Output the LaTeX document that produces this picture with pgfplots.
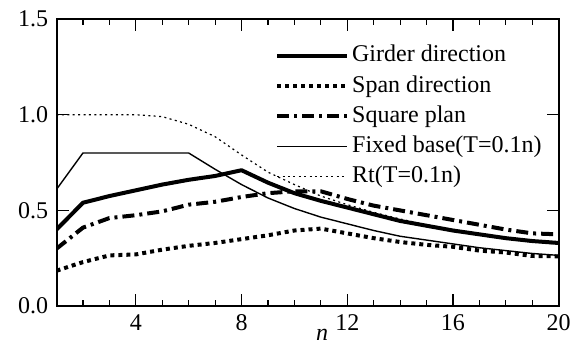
\documentclass[border=0pt]{standalone}
\usepackage{fontspec}
\setmainfont{Liberation Serif}
\usepackage{pgfplots}
\pgfplotsset{compat=1.18}
\begin{document}
\fontsize{12}{14}\selectfont
\begin{tikzpicture}
\useasboundingbox (-28.25pt,-19.5pt) rectangle (257.15pt,153pt);
\begin{axis}[
  at={(0pt,0pt)}, anchor=south west,
  scale only axis, width=251pt, height=143.5pt,
  xmin=1, xmax=20, ymin=0, ymax=1.5,
  xtick={4,8,12,16,20}, minor xtick={1,2,...,20},
  ytick={0,0.5,1,1.5},
  tick align=inside,
  major tick length=6pt, minor tick length=3pt,
  every tick/.style={black, line width=0.6pt},
  axis line style={line width=1pt},
  yticklabel style={/pgf/number format/.cd, fixed, fixed zerofill, precision=1},
  /pgf/number format/assume math mode=true,
  ticklabel style={font=\fontsize{12}{14}\selectfont},
  xlabel={\textit{n}},
  xlabel style={at={(axis description cs:0.529,0)}, anchor=center, yshift=-14.5pt, inner sep=0pt},
  legend style={draw=none, fill=none, inner sep=0pt, outer sep=0pt,
    at={(axis description cs:0.4353,0.92)}, anchor=north west,
    font=\fontsize{12}{14}\selectfont, row sep=1.3pt,
    nodes={inner sep=1.5pt, text height=8.5pt, text depth=2.3pt}},
  legend cell align=left,
  legend image code/.code={\draw[#1] (0pt,0pt) -- (35pt,0pt);},
]
% Rt (drawn first, partly hidden under girder line)
\addplot[forget plot, black, line width=0.6pt, dash pattern=on 1pt off 1.7pt] coordinates {
(1,1.0)(2,1.0)(3,1.0)(4,1.0)(5,0.99)(6,0.95)(7,0.885)(8,0.79)(9,0.70)(10,0.635)
(11,0.575)(12,0.53)(13,0.49)(14,0.455)(15,0.425)(16,0.40)(17,0.375)(18,0.355)(19,0.338)(20,0.322)};
% Girder direction
\addplot[black, line width=2pt, line join=round] coordinates {
(1,0.40)(2,0.54)(3,0.575)(4,0.605)(5,0.635)(6,0.66)(7,0.68)(8,0.71)(9,0.645)(10,0.59)
(11,0.55)(12,0.515)(13,0.48)(14,0.445)(15,0.42)(16,0.395)(17,0.375)(18,0.355)(19,0.34)(20,0.33)};
\addlegendentry{Girder direction}
% Span direction
\addplot[black, line width=2pt, dash pattern=on 2pt off 2pt] coordinates {
(1,0.185)(2,0.23)(3,0.265)(4,0.27)(5,0.295)(6,0.315)(7,0.33)(8,0.35)(9,0.37)(10,0.395)
(11,0.405)(12,0.38)(13,0.355)(14,0.335)(15,0.32)(16,0.31)(17,0.29)(18,0.28)(19,0.262)(20,0.26)};
\addlegendentry{Span direction}
% Square plan
\addplot[black, line width=2pt, dash pattern=on 6pt off 2.5pt on 1.5pt off 2.5pt] coordinates {
(1,0.30)(2,0.41)(3,0.46)(4,0.475)(5,0.495)(6,0.53)(7,0.545)(8,0.57)(9,0.59)(10,0.60)
(11,0.60)(12,0.56)(13,0.525)(14,0.50)(15,0.475)(16,0.45)(17,0.425)(18,0.40)(19,0.38)(20,0.375)};
\addlegendentry{Square plan}
% Fixed base
\addplot[black, line width=0.7pt] coordinates {
(1,0.61)(2,0.80)(3,0.80)(4,0.80)(5,0.80)(6,0.80)(7,0.715)(8,0.635)(9,0.565)(10,0.51)
(11,0.465)(12,0.43)(13,0.395)(14,0.365)(15,0.345)(16,0.325)(17,0.305)(18,0.29)(19,0.275)(20,0.265)};
\addlegendentry{Fixed base(T=0.1n)}
\addlegendimage{black, line width=0.6pt, dash pattern=on 1pt off 1.7pt}
\addlegendentry{Rt(T=0.1n)}
\end{axis}
\end{tikzpicture}
\end{document}
